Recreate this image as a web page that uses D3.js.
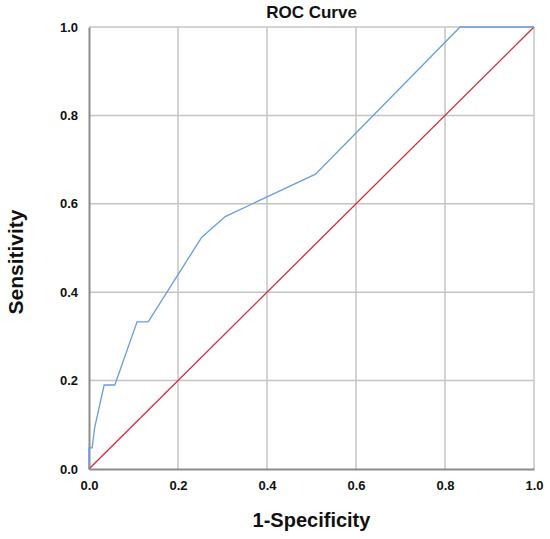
<!DOCTYPE html>
<html>
<head>
<meta charset="utf-8">
<script src="https://cdn.jsdelivr.net/npm/d3@7"></script>
<style>
  body { margin: 0; background: #fff; }
  text { font-family: "Liberation Sans", Arial, sans-serif; font-weight: bold; fill: #111; }
</style>
</head>
<body>
<div id="chart"></div>
<script>
// ROC points (1-specificity, sensitivity)
var fpr = [0, 0, 0.007, 0.013, 0.034, 0.058, 0.108, 0.133, 0.253, 0.306, 0.509, 0.834, 1];
var tpr = [0, 0.048, 0.048, 0.095, 0.190, 0.190, 0.333, 0.333, 0.524, 0.571, 0.667, 1, 1];
var diagX = [0, 1];
var diagY = [0, 1];
var ticks = [0, 0.2, 0.4, 0.6, 0.8, 1.0];

var width = 550, height = 539;
var margin = {top: 27, right: 16, bottom: 70, left: 89};

var svg = d3.select("#chart").append("svg")
  .attr("width", width)
  .attr("height", height);

var x = d3.scaleLinear().domain([0, 1]).range([margin.left, width - margin.right]);
var y = d3.scaleLinear().domain([0, 1]).range([height - margin.bottom, margin.top]);

// grid
svg.append("g")
  .selectAll("line.vx")
  .data(ticks.slice(1))
  .enter().append("line")
  .attr("x1", d => x(d)).attr("x2", d => x(d))
  .attr("y1", y(0)).attr("y2", y(1))
  .attr("stroke", "#c4c4c4").attr("stroke-width", 1.5);

svg.append("g")
  .selectAll("line.hy")
  .data(ticks.slice(1))
  .enter().append("line")
  .attr("x1", x(0)).attr("x2", x(1))
  .attr("y1", d => y(d)).attr("y2", d => y(d))
  .attr("stroke", "#c4c4c4").attr("stroke-width", 1.5);

// axes
var xAxis = svg.append("g")
  .attr("transform", "translate(0," + y(0) + ")")
  .call(d3.axisBottom(x).tickValues(ticks).tickFormat(d3.format(".1f")).tickSize(0).tickPadding(12));
var yAxis = svg.append("g")
  .attr("transform", "translate(" + x(0) + ",0)")
  .call(d3.axisLeft(y).tickValues(ticks).tickFormat(d3.format(".1f")).tickSize(0).tickPadding(11));

[xAxis, yAxis].forEach(function(a) {
  a.select(".domain").attr("stroke", "#8c8c8c").attr("stroke-width", 2);
  a.selectAll("text")
    .style("font-family", "'Liberation Sans', Arial, sans-serif")
    .style("font-weight", "bold")
    .style("font-size", "13px")
    .attr("fill", "#111");
});

// diagonal reference
var line = d3.line().x(d => x(d[0])).y(d => y(d[1]));
svg.append("path")
  .datum(d3.zip(diagX, diagY))
  .attr("d", line)
  .attr("fill", "none")
  .attr("stroke", "#d8283c")
  .attr("stroke-width", 1.3);

// roc curve
svg.append("path")
  .datum(d3.zip(fpr, tpr))
  .attr("d", line)
  .attr("fill", "none")
  .attr("stroke", "#6a9be0")
  .attr("stroke-width", 1.3);

// titles
svg.append("text")
  .attr("x", (x(0) + x(1)) / 2)
  .attr("y", 18)
  .attr("text-anchor", "middle")
  .style("font-size", "17px")
  .text("ROC Curve");

svg.append("text")
  .attr("x", (x(0) + x(1)) / 2)
  .attr("y", 527)
  .attr("text-anchor", "middle")
  .style("font-size", "20px")
  .text("1-Specificity");

svg.append("text")
  .attr("transform", "translate(23,262) rotate(-90)")
  .attr("text-anchor", "middle")
  .style("font-size", "21px")
  .text("Sensitivity");
</script>
</body>
</html>
